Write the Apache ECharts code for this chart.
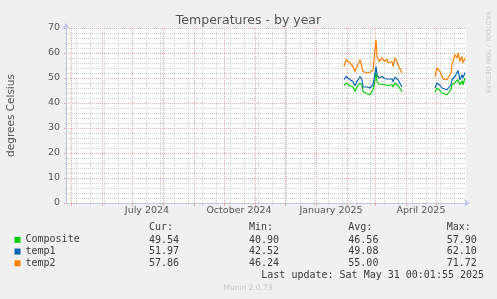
<!DOCTYPE html>
<html><head><meta charset="utf-8">
<script src="https://cdn.jsdelivr.net/npm/echarts@6/dist/echarts.min.js"></script>
<style>html,body{margin:0;padding:0;background:#f0f0f0}#c{width:497px;height:299px}</style>
</head><body><div id="c"></div>
<script>
// ---- data ----
const dates = ['2025-01-29','2025-01-31','2025-02-04','2025-02-07','2025-02-09','2025-02-11','2025-02-12','2025-02-14','2025-02-16','2025-02-17','2025-02-19','2025-02-21','2025-02-24','2025-02-27','2025-02-28','2025-03-01','2025-03-02','2025-03-03','2025-03-05','2025-03-06','2025-03-08','2025-03-09','2025-03-11','2025-03-13','2025-03-14','2025-03-16','2025-03-18','2025-03-19','2025-03-21','2025-03-23','2025-03-24','2025-03-26','2025-03-28',
  '2025-04-13',
  '2025-04-30','2025-05-02','2025-05-03','2025-05-05','2025-05-07','2025-05-08','2025-05-12','2025-05-14','2025-05-16','2025-05-17','2025-05-18','2025-05-20','2025-05-22','2025-05-23','2025-05-25','2025-05-27','2025-05-28','2025-05-30'];
const composite = [46.9,48.0,46.9,46.4,44.6,46.4,47.0,48.0,47.0,44.6,44.2,43.7,43.3,45.3,46.9,49.5,52.6,48.6,47.5,46.9,47.5,47.7,47.3,47.3,47.0,46.9,47.3,46.4,48.0,47.3,46.9,47.5,44.6,
  null,
  44.3,46.0,46.3,45.0,44.0,43.3,43.3,44.3,45.5,47.3,46.9,48.2,48.6,49.3,47.3,48.9,47.3,50.0];
const temp1 = [49.3,50.6,49.3,48.6,46.9,48.6,49.3,50.6,49.3,46.4,46.6,46.4,46.0,47.3,49.3,52.0,54.6,51.3,50.0,49.3,50.6,50.0,49.7,50.3,49.6,49.3,49.6,48.6,50.3,49.6,49.3,49.6,46.4,
  null,
  46.0,48.0,48.3,47.0,46.0,45.3,45.3,46.3,47.3,49.3,48.6,50.6,50.9,53.0,49.3,51.3,50.0,52.2];
const temp2 = [54.6,57.3,56.0,54.6,52.6,54.6,55.3,57.3,56.6,52.6,53.0,52.0,52.3,53.0,57.3,61.3,65.3,58.6,56.6,56.0,58.0,57.3,56.6,57.6,56.0,55.3,56.6,54.6,58.0,56.6,55.3,56.0,52.0,
  null,
  50.6,54.0,54.6,52.6,50.6,49.6,49.3,49.6,52.0,55.3,56.6,59.3,58.0,60.0,56.6,58.6,56.0,58.0];
const seriesNames = ['Composite','temp1','temp2'];
const seriesColors = ['#00cc00','#0066b3','#ff8000'];
const statHeaders = ['Cur:','Min:','Avg:','Max:'];
const statsComposite = ['49.54','40.90','46.56','57.90'];
const statsTemp1 = ['51.97','42.52','49.08','62.10'];
const statsTemp2 = ['57.86','46.24','55.00','71.72'];
const xLabelTexts = ['July 2024','October 2024','January 2025','April 2025'];
const xLabelMonths = [[2024,7],[2024,10],[2025,1],[2025,4]];
const yMin = 0, yMax = 70, yStep = 10;
const titleText = 'Temperatures - by year';
const yName = 'degrees Celsius';
const lastUpdate = 'Last update: Sat May 31 00:01:55 2025';

// ---- helpers ----
const DAY = 86400000;
const toTime = s => { const [y,m,d] = s.split('-').map(Number); return new Date(y, m-1, d).getTime(); };
const startT = new Date(2024,3,26,0,1,55).getTime();
const endT = new Date(2025,4,31,0,1,55).getTime();
const monthStarts = [];
for (let d = new Date(2024,4,1); d.getTime() <= endT; d = new Date(d.getFullYear(), d.getMonth()+1, 1)) monthStarts.push(d.getTime());
const labelValues = xLabelMonths.map(([y,m]) => new Date(y, m-1, 16).getTime());

// minor grid: every second Monday, first one Mon 2024-05-06, last one Mon 2025-05-19
const firstMinor = new Date(2024,4,6).getTime();
const lastMinor = new Date(2025,4,19).getTime();
const minorStepDays = 14;
const plotLeft = 66, plotTop = 28, plotW = 400, plotH = 175;
const pxPerMs = plotW / (endT - startT);
const minorLeft = plotLeft + (firstMinor - startT) * pxPerMs;
const minorSpanDays = Math.round((lastMinor - firstMinor) / DAY);

const allStats = [statsComposite, statsTemp1, statsTemp2];
const seriesData = [composite, temp1, temp2];

const mono = 'DejaVu Sans Mono';
const sans = 'DejaVu Sans';
const textCol = '#3a3a3a';
const graphics = [];
const colX = [149, 249, 348.3, 446.7];
const rowY = [240, 251.7, 263.4];
const txt = (x, y, text, font, fill, align) => ({type:'text', x, y, style:{text, font, fill, align, verticalAlign:'middle', textAlign:align, textVerticalAlign:'middle'}});
statHeaders.forEach((h,i) => graphics.push(txt(colX[i], 227.5, h, '10px "'+mono+'"', textCol, 'left')));
allStats.forEach((row,r) => row.forEach((v,i) => graphics.push(txt(colX[i], rowY[r], v, '10px "'+mono+'"', textCol, 'left'))));
graphics.push(txt(261.3, 275.3, lastUpdate, '10px "'+mono+'"', textCol, 'left'));
graphics.push(txt(248, 288.3, 'Munin 2.0.73', '7.5px "'+sans+'"', '#c4c4c4', 'center'));
const rr = txt(487.5, 52.5, 'RRDTOOL / TOBI OETIKER', '6.4px "'+sans+'"', '#c8c8c8', 'center');
rr.rotation = -Math.PI/2;
graphics.push(rr);

const majorCol = '#eeaaaa';
const minorCol = '#d0d0d0';
const axisCol = '#c4c4f2';

const dataSeries = seriesNames.map((n,i) => ({
  name: n, type: 'line', xAxisIndex: 0, yAxisIndex: 0, showSymbol: false, connectNulls: false,
  color: seriesColors[i], lineStyle: {width: 1.2, color: seriesColors[i]},
  data: dates.map((d,k) => [toTime(d), seriesData[i][k]]), z: 3 + i
}));

const option = {
  animation: false,
  backgroundColor: '#f0f0f0',
  title: {text: titleText, left: 'center', top: 14, padding: 0,
    textStyle: {fontFamily: sans, fontSize: 12.5, fontWeight: 'normal', color: '#555'}},
  grid: [
    {left: plotLeft, top: plotTop, width: plotW, height: plotH, show: true, backgroundColor: '#ffffff', borderWidth: 0,
     containLabel: false, outerBoundsMode: 'none'},
    {left: minorLeft, top: plotTop, width: minorSpanDays * pxPerMs * DAY, height: plotH, show: false,
     containLabel: false, outerBoundsMode: 'none'}
  ],
  legend: {data: seriesNames, orient: 'vertical', left: 14.5, top: 234, itemWidth: 6, itemHeight: 6, itemGap: 0,
    icon: 'rect', selectedMode: false, padding: 0,
    textStyle: {fontFamily: mono, fontSize: 10, color: textCol, lineHeight: 11.7}},
  xAxis: [
    {type: 'value', gridIndex: 0, min: startT, max: endT, position: 'bottom',
     axisLine: {show: true, lineStyle: {color: axisCol, width: 1}, symbol: ['none','arrow'], symbolSize: [6,6], symbolOffset: [0,4]},
     axisTick: {show: true, length: 3, customValues: monthStarts, lineStyle: {color: majorCol}},
     axisLabel: {show: true, customValues: labelValues, margin: 3, fontFamily: sans, fontSize: 9.5, color: '#555',
       formatter: function (v) { let best = 0; labelValues.forEach((lv,i) => { if (Math.abs(lv - v) < Math.abs(labelValues[best] - v)) best = i; }); return xLabelTexts[best]; }},
     splitLine: {show: true, lineStyle: {color: majorCol, type: [1,1], width: 1}}, z: 1},
    {type: 'value', gridIndex: 1, min: 0, max: minorSpanDays, interval: minorStepDays, position: 'bottom',
     axisLine: {show: false}, axisTick: {show: true, length: 2, lineStyle: {color: minorCol}}, axisLabel: {show: false},
     splitLine: {show: true, lineStyle: {color: minorCol, type: [1,1], width: 1}}, z: 0}
  ],
  yAxis: [
    {type: 'value', gridIndex: 0, min: yMin, max: yMax, interval: yStep,
     name: yName, nameLocation: 'middle', nameGap: 49, nameTextStyle: {fontFamily: sans, fontSize: 10.5, color: '#555'},
     axisLine: {show: true, lineStyle: {color: axisCol, width: 1}, symbol: ['none','arrow'], symbolSize: [6,6], symbolOffset: [0,5]},
     axisTick: {show: true, length: 2, lineStyle: {color: majorCol}},
     minorTick: {show: true, splitNumber: 5, length: 1, lineStyle: {color: minorCol}},
     axisLabel: {margin: 6, fontFamily: sans, fontSize: 9.5, color: '#555'},
     splitLine: {show: true, lineStyle: {color: majorCol, type: [1,1], width: 1}},
     minorSplitLine: {show: true, lineStyle: {color: minorCol, type: [1,1], width: 1}}, z: 1},
    {type: 'value', gridIndex: 1, min: 0, max: 1, show: false}
  ],
  series: dataSeries,
  graphic: graphics
};
const chart = echarts.init(document.getElementById('c'), null, {renderer: 'canvas'});
chart.setOption(option);
</script></body></html>
